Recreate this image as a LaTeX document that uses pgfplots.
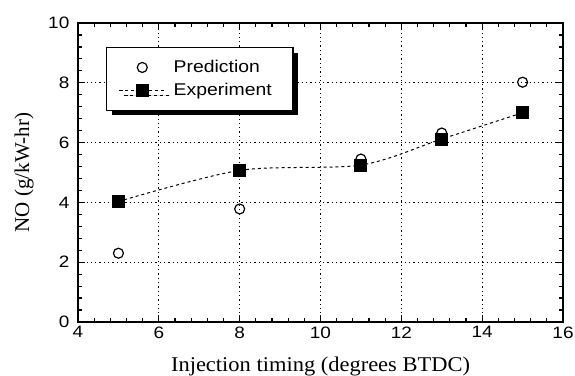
\documentclass[border=0pt]{standalone}
\usepackage{pgfplots}
\pgfplotsset{compat=1.18}
\usepackage{fontspec}
\setmainfont{Liberation Serif}
\newfontfamily\ticksans{Liberation Sans}
\usetikzlibrary{shadows}

\pgfplotstableread{
x y
5 2.30
8 3.78
11 5.45
13 6.32
15 8.02
}\prediction

\pgfplotstableread{
x y
5 4.03
8 5.07
11 5.25
13 6.12
15 7.00
}\experiment

\begin{document}
\begin{tikzpicture}
\begin{axis}[
  scale only axis,
  width=485bp, height=299bp,
  xmin=4, xmax=16, ymin=0, ymax=10,
  xtick={4,6,...,16}, ytick={0,2,...,10},
  minor x tick num=4, minor y tick num=4,
  tick align=inside,
  major tick length=7bp, minor tick length=4.5bp,
  tick style={line width=1.2pt, black},
  axis line style={line width=1.5pt},
  grid=major,
  major grid style={line width=1.3pt, black, dash pattern=on 1.3bp off 3bp},
  ticklabel style={font=\ticksans\fontsize{16.5bp}{18bp}\selectfont, xscale=1.15},
  yticklabel style={xshift=-4bp},
  xticklabel style={yshift=-1bp},
  /pgf/number format/assume math mode=true,
  xlabel={Injection timing (degrees BTDC)},
  ylabel={NO (g/kW-hr)},
  label style={font=\fontsize{21bp}{24bp}\selectfont},
  xlabel style={at={(axis description cs:0.5,0)}, anchor=base, yshift=-49bp, xscale=1.07},
  ylabel style={at={(axis description cs:-0.101,0.5)}, anchor=base},
  legend style={
    at={(0.058,0.92)}, anchor=north west,
    draw=black, line width=1.3pt, fill=white,
    font=\ticksans\fontsize{17bp}{20bp}\selectfont,
    inner xsep=12bp, inner ysep=11bp,
    row sep=5bp,
    nodes={xscale=1.14},
    drop shadow={shadow xshift=5bp, shadow yshift=-5bp, fill=black, opacity=1},
    legend cell align=left,
  },
  legend image code/.code={
    \draw[mark repeat=2, mark phase=2, #1]
      plot coordinates {(0bp,0bp) (23bp,0bp) (46bp,0bp)};
  },
]
\addplot[only marks, mark=o, mark size=5bp, mark options={line width=1.2pt, fill=white}]
  table[x=x, y=y] {\prediction};
\addlegendentry{\hspace*{5bp}Prediction\hspace*{6bp}}
\addplot[smooth, tension=0.5, dashed, line width=1pt, mark=square*, mark size=6bp,
         mark options={solid, fill=black}]
  table[x=x, y=y] {\experiment};
\addlegendentry{\hspace*{5bp}Experiment\hspace*{6bp}}
\end{axis}
\pgfresetboundingbox
\path[use as bounding box]
  (current axis.south west) ++(-78bp,-54bp) rectangle
  ([shift={(12bp,23bp)}]current axis.north east);
\end{tikzpicture}
\end{document}
